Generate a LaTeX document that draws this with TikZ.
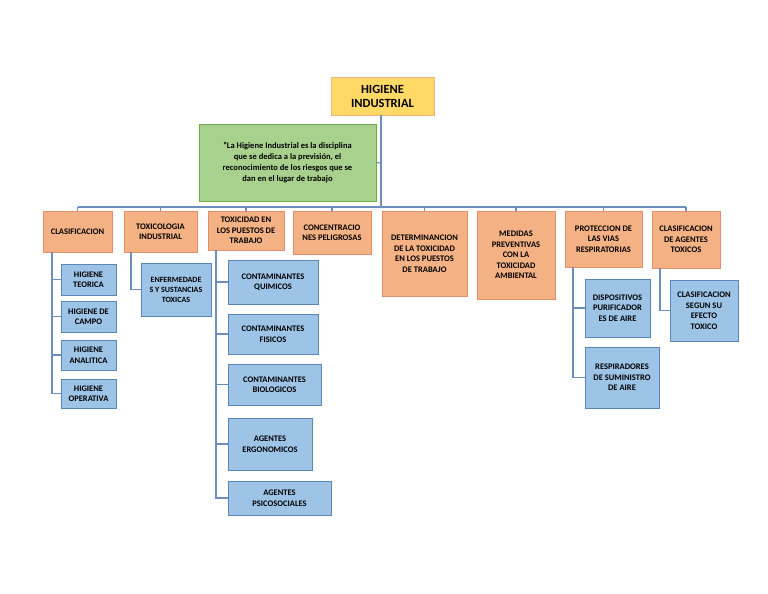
\documentclass[tikz,border=0pt]{standalone}
\usepackage{fontspec}
\setmainfont{Carlito}
\definecolor{sal}{HTML}{F4B183}\definecolor{salb}{HTML}{E08F6A}
\definecolor{blu}{HTML}{9DC3E6}\definecolor{blub}{HTML}{5B86B8}
\definecolor{grn}{HTML}{A9D18E}\definecolor{grnb}{HTML}{70AD47}
\definecolor{yel}{HTML}{FFD966}\definecolor{yelb}{HTML}{F4B183}
\definecolor{lnc}{HTML}{6C8EBF}
\begin{document}
\begin{tikzpicture}[x=1pt,y=-1pt,
 box/.style={draw,line width=0.8pt,align=center,inner sep=1pt,font=\bfseries\fontsize{8.5}{10.5}\selectfont},
 lone/.style={box,fill=sal,draw=salb},
 ltwo/.style={box,fill=blu,draw=blub},
 ln/.style={draw=lnc,line width=1.1pt}]
\useasboundingbox (0,0) rectangle (768,594);
\newcommand{\bx}[6]{\node[#1,minimum width=#4-#2,minimum height=#5-#3] (#6) at ({(#2+#4)/2},{(#3+#5)/2})}
\bx{box,fill=yel,draw=yelb,font=\bfseries\fontsize{12.5}{14}\selectfont}{331}{77}{434}{115}{root} {HIGIENE\\INDUSTRIAL};
\bx{box,fill=grn,draw=grnb,font=\bfseries\fontsize{8.5}{11}\selectfont}{199}{124}{376}{201}{def} {"La Higiene Industrial es la disciplina\\que se dedica a la previsión, el\\reconocimiento de los riesgos que se\\dan en el lugar de trabajo};
\coordinate (t1) at (381,163); \coordinate (t2) at (381,207);
\draw[ln] (root.south -| t1) -- (t2); \draw[ln] (def.east) -- (t1);
\bx{lone}{43}{211}{112}{252}{a}{CLASIFICACION};
\bx{lone}{124}{211}{197}{252}{b}{TOXICOLOGIA\\INDUSTRIAL};
\bx{lone}{208}{211}{284}{250}{c}{TOXICIDAD EN\\LOS PUESTOS DE\\TRABAJO};
\bx{lone}{293}{211}{371}{254}{d}{CONCENTRACIO\\NES PELIGROSAS};
\bx{lone}{382}{211}{467}{296}{e}{DETERMINANCION\\DE LA TOXICIDAD\\EN LOS PUESTOS\\DE TRABAJO};
\bx{lone}{477}{211}{555}{299}{f}{MEDIDAS\\PREVENTIVAS\\CON LA\\TOXICIDAD\\AMBIENTAL};
\bx{lone}{565}{211}{642}{267}{g}{PROTECCION DE\\LAS VIAS\\RESPIRATORIAS};
\bx{lone}{652}{211}{720}{268}{h}{CLASIFICACION\\DE AGENTES\\TOXICOS};
\draw[ln] (a.north|-t2) -- (h.north|-t2);
\foreach \n in {a,b,c,d,e,f,g,h} \draw[ln] (\n.north|-t2) -- (\n.north);
\bx{ltwo}{61}{264}{116}{295}{a1}{HIGIENE\\TEORICA};
\bx{ltwo}{61}{301}{116}{332}{a2}{HIGIENE DE\\CAMPO};
\bx{ltwo}{61}{340}{116}{370}{a3}{HIGIENE\\ANALITICA};
\bx{ltwo}{61}{379}{116}{408}{a4}{HIGIENE\\OPERATIVA};
\coordinate (va) at (52,252);
\draw[ln] (va) -- (va|-a4.west) -- (a4.west);
\foreach \n in {a1,a2,a3} \draw[ln] (va|-\n.west) -- (\n.west);
\bx{ltwo,font=\bfseries\fontsize{8}{10}\selectfont}{141}{263}{211}{316}{b1}{ENFERMEDADE\\S Y SUSTANCIAS\\TOXICAS};
\coordinate (vb) at (131,252);
\draw[ln] (vb) -- (vb|-b1.west) -- (b1.west);
\bx{ltwo}{228}{260}{318}{304}{c1}{CONTAMINANTES\\QUIMICOS};
\bx{ltwo}{228}{314}{318}{354}{c2}{CONTAMINANTES\\FISICOS};
\bx{ltwo}{228}{364}{321}{405}{c3}{CONTAMINANTES\\BIOLOGICOS};
\bx{ltwo}{228}{418}{312}{470}{c4}{AGENTES\\ERGONOMICOS};
\bx{ltwo}{228}{481}{331}{515}{c5}{AGENTES\\PSICOSOCIALES};
\coordinate (vc) at (216,250);
\draw[ln] (vc) -- (vc|-c5.west) -- (c5.west);
\foreach \n in {c1,c2,c3,c4} \draw[ln] (vc|-\n.west) -- (\n.west);
\bx{ltwo}{585}{279}{650}{337}{g1}{DISPOSITIVOS\\PURIFICADOR\\ES DE AIRE};
\bx{ltwo}{585}{347}{659}{408}{g2}{RESPIRADORES\\DE SUMINISTRO\\DE AIRE};
\coordinate (vg) at (573,267);
\draw[ln] (vg) -- (vg|-g2.west) -- (g2.west); \draw[ln] (vg|-g1.west) -- (g1.west);
\bx{ltwo}{670}{280}{738}{341}{h1}{CLASIFICACION\\SEGUN SU\\EFECTO\\TOXICO};
\coordinate (vh) at (660,268);
\draw[ln] (vh) -- (vh|-h1.west) -- (h1.west);
\end{tikzpicture}
\end{document}
